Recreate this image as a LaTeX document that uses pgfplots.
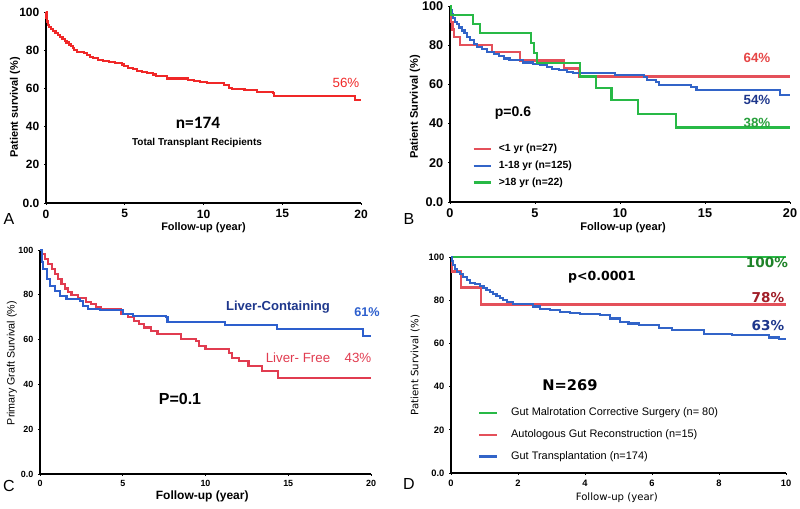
\documentclass[border=0pt]{standalone}
\usepackage{fontspec}
\setmainfont{Liberation Sans}
\newfontfamily\carlito{Carlito}
\newfontfamily\dejavu{DejaVu Sans}
\usepackage{pgfplots}
\pgfplotsset{compat=1.18}

\definecolor{aRed}{RGB}{240,40,40}
\definecolor{bRed}{RGB}{228,80,90}
\definecolor{bBlue}{RGB}{50,100,200}
\definecolor{bGreen}{RGB}{40,185,70}
\definecolor{cRed}{RGB}{225,60,80}
\definecolor{cBlue}{RGB}{45,95,205}
\definecolor{tNavy}{RGB}{30,55,140}
\definecolor{tRed}{RGB}{230,70,70}
\definecolor{tGreen}{RGB}{40,160,60}
\definecolor{dGreenT}{RGB}{30,130,40}
\definecolor{dRedT}{RGB}{160,30,40}

\pgfplotsset{km/.style={
  scale only axis, anchor=south west,
  axis lines*=left, axis line style={line width=1.3pt,-},
  xmin=0, ymin=0, ymax=100, clip=false, no markers,
  ytick={0,20,40,60,80,100}, yticklabels={0.0,20,40,60,80,100},
  tick align=outside, major tick length=1.5pt, tick style={line width=0.5pt,black},
  /pgf/number format/assume math mode=true,
  every axis plot/.append style={const plot, line width=1.6pt},
  legend image code/.code={\draw[#1,line width=1.8pt] (0pt,0pt) -- (13pt,0pt);},
  legend cell align=left,
}}

\begin{document}
\begin{tikzpicture}
\path[use as bounding box] (0pt,0pt) rectangle (600pt,381.75pt);

% ---------------- A ----------------
\begin{axis}[km, at={(34.5pt,229.5pt)}, width=236.25pt, height=143.25pt,
  xmax=20, xtick={0,5,10,15,20},
  tick label style={font=\bfseries\fontsize{9}{10}\selectfont},
  xlabel={Follow-up (year)}, ylabel={Patient survival (\%)},
  label style={font=\bfseries\fontsize{8.2}{10}\selectfont},
  xlabel style={at={(axis description cs:0.5,-0.128)},anchor=center},
  ylabel style={at={(axis description cs:-0.098,0.5)},anchor=center}]
\addplot[aRed] coordinates {(0,100)(0.03,97)(0.06,95)(0.1,94)(0.15,93)(0.2,92)(0.3,91)(0.45,90)(0.6,89)(0.75,88)(0.9,87)(1.05,86)(1.2,85)(1.3,84)(1.45,83)(1.6,82)(1.7,81)(1.8,80)(1.95,79)(2.4,78.5)(2.6,77.5)(2.8,76.5)(3.0,75.7)(3.3,75)(3.6,74.4)(4.0,73.8)(4.4,73.2)(4.8,72.5)(4.95,71.5)(5.2,70.8)(5.5,70)(5.8,69.3)(6.1,68.6)(6.4,68)(6.8,67.3)(7.0,66.6)(7.7,65.2)(9.0,64.6)(9.4,63.9)(9.8,63.2)(10.2,62.6)(11.3,61.8)(11.6,60.3)(11.8,59.6)(12.6,59.1)(13.4,58.3)(14.4,57.6)(14.5,56)(19.5,56)(19.6,54)(20,54)};
\end{axis}

% ---------------- B ----------------
\begin{axis}[km, at={(337.5pt,230.25pt)}, width=255pt, height=147pt,
  xmax=20, xtick={0,5,10,15,20},
  tick label style={font=\bfseries\fontsize{9.5}{10}\selectfont},
  xlabel={Follow-up (year)}, ylabel={Patient Survival (\%)},
  label style={font=\bfseries\fontsize{8.3}{10}\selectfont},
  xlabel style={at={(axis description cs:0.509,-0.133)},anchor=center},
  ylabel style={at={(axis description cs:-0.103,0.485)},anchor=center},
  legend style={at={(axis cs:1.3,31)}, anchor=north west, draw=none, fill=none,
    inner sep=0pt, row sep=1.5pt, font=\bfseries\fontsize{7.8}{9}\selectfont,
    nodes={inner xsep=5pt}}]
\addplot[bRed] coordinates {(0,100)(0.04,96)(0.08,92)(0.15,88)(0.25,84)(0.59,80)(2.45,76.4)(4.1,72.2)(6.7,68.1)(7.6,64)(20,64)};
\addlegendentry{<1 yr (n=27)}
\addplot[bBlue] coordinates {(0,100)(0.05,98)(0.1,96)(0.2,94)(0.3,92)(0.4,91)(0.55,89)(0.7,87.5)(0.85,86)(1.0,84.3)(1.2,82.5)(1.4,80.5)(1.6,79.2)(1.9,78)(2.2,76.5)(2.6,75.3)(2.9,74.3)(3.2,73.2)(3.5,72.4)(4.3,71.2)(4.9,70.5)(5.3,69.9)(5.7,68.9)(6.0,68)(6.4,67.3)(6.9,66.5)(7.25,66)(9.7,64.8)(11.4,63.6)(11.6,62.2)(12.1,61)(12.3,59.8)(14.2,58.6)(14.5,57)(19.2,57)(19.4,54.5)(20,54.5)};
\addlegendentry{1-18 yr (n=125)}
\addplot[bGreen] coordinates {(0,100)(0.05,95.5)(1.37,91)(1.76,86)(4.75,81)(4.94,75.9)(5.14,70.7)(7.65,64)(8.6,58)(9.5,52)(11.04,45)(13.3,38)(20,38)};
\addlegendentry{>18 yr (n=22)}
\end{axis}

% ---------------- C ----------------
\begin{axis}[km, at={(30pt,26.25pt)}, width=248.25pt, height=168pt,
  xmax=20, xtick={0,5,10,15,20},
  tick label style={font=\bfseries\fontsize{6.7}{8}\selectfont},
  xlabel={Follow-up (year)}, ylabel={Primary Graft Survival (\%)},
  xlabel style={font=\bfseries\fontsize{9}{10}\selectfont, at={(axis description cs:0.49,-0.098)},anchor=center},
  ylabel style={font=\fontsize{8}{10}\selectfont, at={(axis description cs:-0.085,0.495)},anchor=center}]
\addplot[cRed] coordinates {(0,100)(0.1,98.2)(0.3,96)(0.5,93.7)(0.7,91.5)(0.9,89.3)(1.1,87)(1.3,84.8)(1.5,82.8)(1.7,81.3)(1.9,79.9)(2.3,78.4)(2.8,76.9)(3.1,75.8)(3.4,74.3)(3.7,73.8)(4.9,71.3)(5.3,69.9)(5.7,68.4)(6.0,66.9)(6.3,65.4)(6.7,63.9)(7.1,62.4)(8.5,60.4)(9.4,59.4)(9.6,57.2)(10.0,55.7)(11.4,54.2)(11.6,51.9)(12.0,50.4)(12.6,48.2)(13.4,46)(14.4,43)(20,43)};
\addplot[cBlue] coordinates {(0,100)(0.1,94.5)(0.2,91.5)(0.4,87)(0.6,84)(0.9,81.8)(1.2,79.6)(1.6,78)(2.4,77.3)(2.6,75)(2.9,73.6)(3.6,73.3)(5.0,71.3)(5.6,70.6)(7.6,69.9)(7.7,67.9)(11.1,67.9)(11.2,66.4)(14.3,64.6)(19.5,61.6)(20,61.6)};
\end{axis}

% ---------------- D ----------------
\begin{axis}[km, at={(338.25pt,27pt)}, width=251.25pt, height=162pt,
  xmax=10, xtick={0,2,4,6,8,10},
  tick label style={font=\bfseries\fontsize{7}{8}\selectfont},
  xlabel={Follow-up (year)}, ylabel={Patient Survival (\%)},
  label style={font=\dejavu\fontsize{7.6}{9}\selectfont},
  xlabel style={at={(axis description cs:0.495,-0.116)},anchor=center},
  ylabel style={at={(axis description cs:-0.107,0.5)},anchor=center},
  legend style={at={(axis cs:0.8,31.5)}, anchor=north west, draw=none, fill=none,
    inner sep=0pt, row sep=5pt, font=\fontsize{8.2}{9.5}\selectfont,
    nodes={inner xsep=10pt}}]
\addplot[bGreen] coordinates {(0,100)(10,100)};
\addlegendentry{Gut Malrotation Corrective Surgery (n= 80)}
\addplot[bRed] coordinates {(0,100)(0.04,93.3)(0.3,85.9)(0.9,78)(10,78)};
\addlegendentry{Autologous Gut Reconstruction (n=15)}
\addplot[bBlue] coordinates {(0,100)(0.03,98)(0.07,96.1)(0.12,94.5)(0.17,93)(0.27,92)(0.37,90.7)(0.47,89.4)(0.57,88.1)(0.72,87.3)(0.87,86.4)(0.97,85.5)(1.06,84.6)(1.16,83.8)(1.26,83)(1.36,82)(1.46,81)(1.56,80)(1.66,79.2)(1.86,78.4)(2.26,78.1)(2.46,77.1)(2.66,76)(2.95,75.3)(3.25,74.5)(3.55,74.1)(3.85,73.8)(4.45,73)(4.75,71.5)(5.05,69.9)(5.3,69.2)(5.6,68.4)(6.2,67.3)(6.6,66)(7.55,64.5)(8.4,63.7)(9.5,62.7)(9.8,62)(10,62)};
\addlegendentry{Gut Transplantation (n=174)}
\end{axis}

% ---------------- annotations (pixel grid, y up) ----------------
\begin{scope}[x=0.75pt,y=0.75pt]
\node[font=\fontsize{12}{12}\selectfont] at (9,290) {A};
\node[font=\fontsize{12}{12}\selectfont] at (409,290) {B};
\node[font=\fontsize{12}{12}\selectfont] at (9,23) {C};
\node[font=\fontsize{12}{12}\selectfont] at (409,25) {D};
% A
\node[text=aRed,font=\fontsize{10}{12}\selectfont] at (346,426) {56\%};
\node[font=\carlito\bfseries\fontsize{13}{14}\selectfont] at (198,386) {n=174};
\node[font=\bfseries\fontsize{7.5}{9}\selectfont] at (197,366) {Total Transplant Recipients};
% B
\node[text=tRed,font=\bfseries\fontsize{10}{12}\selectfont] at (757,451) {64\%};
\node[text=tNavy,font=\bfseries\fontsize{10}{12}\selectfont] at (757,409) {54\%};
\node[text=tGreen,font=\bfseries\fontsize{10}{12}\selectfont] at (757,386) {38\%};
\node[font=\bfseries\fontsize{10.5}{12}\selectfont] at (513,396) {p=0.6};
% C
\node[text=tNavy,font=\bfseries\fontsize{9.8}{12}\selectfont] at (278,202) {Liver-Containing};
\node[text=cBlue,font=\bfseries\fontsize{9.5}{12}\selectfont] at (367,197) {61\%};
\node[text=cRed,font=\fontsize{10}{12}\selectfont] at (298,151) {Liver- Free};
\node[text=cRed,font=\fontsize{10}{12}\selectfont] at (358,151) {43\%};
\node[font=\bfseries\fontsize{12}{14}\selectfont] at (180,110) {P=0.1};
% D
\node[text=dGreenT,font=\dejavu\bfseries\fontsize{10.2}{12}\selectfont] at (767,246) {100\%};
\node[text=dRedT,font=\dejavu\bfseries\fontsize{10.2}{12}\selectfont] at (768,211) {78\%};
\node[text=tNavy,font=\dejavu\bfseries\fontsize{10.2}{12}\selectfont] at (768,183) {63\%};
\node[font=\dejavu\bfseries\fontsize{9.4}{12}\selectfont] at (602,232) {p<0.0001};
\node[font=\dejavu\bfseries\fontsize{11}{13}\selectfont] at (570,124) {N=269};
\end{scope}
\end{tikzpicture}
\end{document}
